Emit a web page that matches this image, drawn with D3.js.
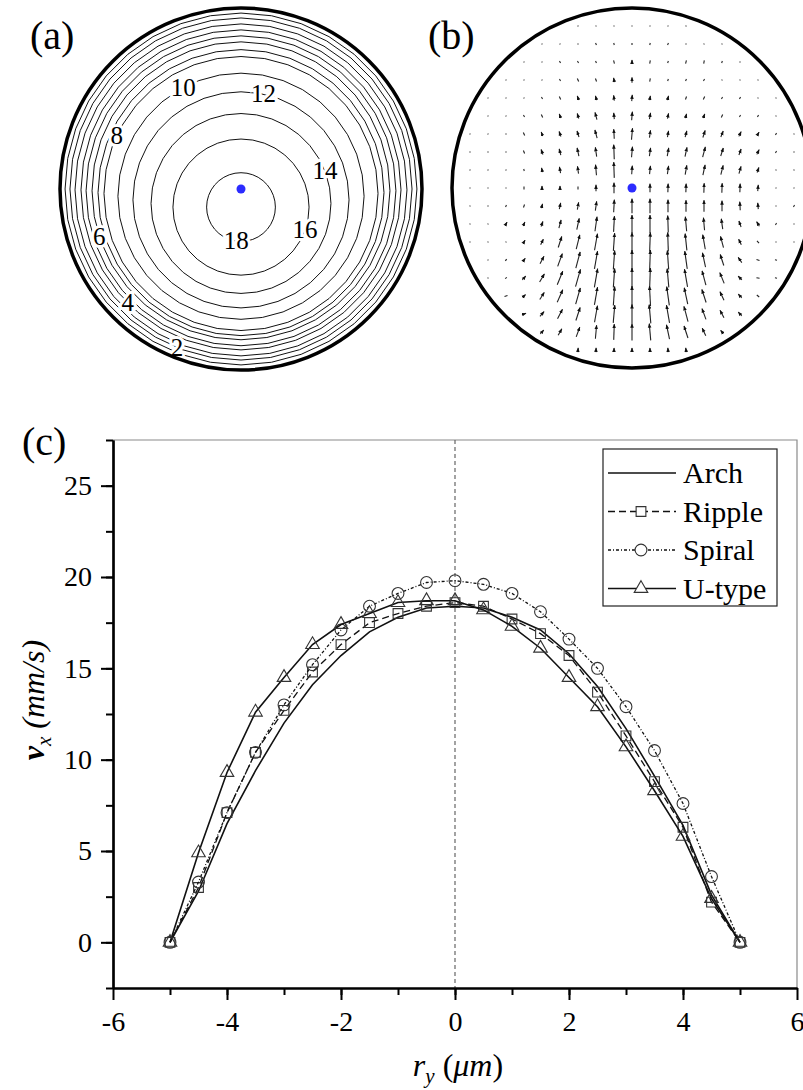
<!DOCTYPE html>
<html>
<head>
<meta charset="utf-8">
<script src="https://cdn.jsdelivr.net/npm/d3@7"></script>
<style>
  body { margin: 0; background: #fff; }
  text, tspan { font-family: "Liberation Serif", monospace !important; }
</style>
</head>
<body>
<svg width="803" height="1090"></svg>
<script>
// velocity profiles across the channel, panel (c)
const rPos = [-5, -4.5, -4, -3.5, -3, -2.5, -2, -1.5, -1, -0.5, 0, 0.5, 1, 1.5, 2, 2.5, 3, 3.5, 4, 4.5, 5];
const archVx = [0, 2.8, 6.5, 9.4, 12.0, 14.1, 15.7, 17.0, 17.8, 18.3, 18.4, 18.3, 17.8, 17.1, 15.8, 14.0, 11.7, 9.1, 6.4, 2.6, 0];
const rippleVx = [0, 3.0, 7.1, 10.4, 12.7, 14.8, 16.3, 17.5, 18.0, 18.4, 18.6, 18.4, 17.7, 16.9, 15.7, 13.7, 11.3, 8.8, 6.3, 2.2, 0];
const spiralVx = [0, 3.3, 7.1, 10.4, 13.0, 15.2, 17.1, 18.4, 19.1, 19.7, 19.8, 19.6, 19.1, 18.1, 16.6, 15.0, 12.9, 10.5, 7.6, 3.6, 0];
const utypeVx = [0, 4.9, 9.3, 12.6, 14.5, 16.3, 17.4, 18.0, 18.6, 18.7, 18.7, 18.2, 17.3, 16.1, 14.5, 12.9, 10.7, 8.3, 5.8, 2.4, 0];
const seriesNames = ['Arch', 'Ripple', 'Spiral', 'U-type'];
const xTicks = [-6, -4, -2, 0, 2, 4, 6];
const yTicks = [0, 5, 10, 15, 20, 25];

// contour map, panel (a): level, radius / R, downward shift of contour centre / R
const contourLevels = [1, 2, 3, 4, 5, 6, 7, 8, 10, 12, 14, 16, 18];
const contourRadius = [0.972, 0.945, 0.917, 0.884, 0.856, 0.823, 0.79, 0.757, 0.68, 0.597, 0.497, 0.376, 0.19];
const contourShift = [0, 0, 0.005, 0.005, 0.01, 0.01, 0.02, 0.025, 0.04, 0.06, 0.08, 0.1, 0.1];
const labelLevels = [2, 4, 6, 8, 10, 12, 14, 16, 18];
const labelAngle = [112, 135, 162, 205, 242, 282, 339, 20, 98];

// secondary flow, panel (b): magnitude and tilt (deg) on a 19 x 19 grid, rows top to bottom
const vecMag = [
  [0,0,0,0,0,0,1,1,1,1,1,1,1,0,0,0,0,0,0],
  [0,0,0,0,1,1,1,2,2,2,2,2,1,1,1,0,0,0,0],
  [0,0,0,1,1,2,2,2,3,4,3,2,3,3,2,1,0,0,0],
  [0,0,1,1,1,2,3,3,4,5,3,2,2,2,1,1,1,0,0],
  [0,1,1,1,2,3,4,4,5,6,4,4,3,3,2,2,1,1,0],
  [0,1,1,2,3,4,5,7,6,8,6,5,4,4,3,2,2,1,0],
  [1,1,1,3,4,5,6,8,9,11,7,6,6,7,6,5,4,2,1],
  [1,1,1,3,5,6,8,9,14,10,8,8,9,10,8,6,5,2,1],
  [1,1,1,2,4,6,7,10,15,8,8,8,9,10,9,7,5,1,1],
  [1,1,1,3,4,4,3,6,10,0,8,8,8,9,9,8,6,1,1],
  [1,1,2,3,4,6,7,9,12,14,14,12,11,11,10,8,6,1,2],
  [1,1,4,4,5,8,11,14,15,17,17,16,14,12,10,6,5,2,1],
  [0,1,1,4,6,11,14,16,17,18,18,18,16,14,11,6,3,1,0],
  [0,1,2,4,8,13,16,17,18,19,19,18,17,14,11,6,3,2,0],
  [0,1,2,5,9,14,17,18,18,19,19,18,17,14,11,5,3,2,0],
  [0,0,3,4,8,13,16,17,18,19,19,18,16,13,9,5,3,0,0],
  [0,0,0,4,6,10,13,16,17,18,18,17,15,11,8,5,0,0,0],
  [0,0,0,0,5,7,10,13,15,16,16,14,12,8,4,0,0,0,0],
  [0,0,0,0,0,0,4,4,4,4,4,4,4,0,0,0,0,0,0]
];
const vecTilt = [
  [0,0,0,0,0,0,-20,-10,-5,0,5,10,20,0,0,0,0,0,0],
  [0,0,0,0,-40,-35,-30,-25,-15,0,15,25,30,35,40,0,0,0,0],
  [0,0,0,-40,-40,-35,-30,-25,-15,0,10,20,15,10,20,30,0,0,0],
  [0,0,-40,-40,-35,-30,-25,-20,-10,0,10,20,25,30,35,40,40,0,0],
  [0,-40,-40,-35,-30,-25,-20,-15,-8,5,10,15,20,25,30,35,40,40,0],
  [0,-40,-35,-30,-25,-20,-18,-15,-5,5,10,12,15,20,25,30,35,40,0],
  [-40,-35,-30,-25,-22,-20,-18,-15,-3,5,8,10,15,18,22,25,30,35,40],
  [-30,-30,-25,-22,-20,-15,-12,-8,-2,5,8,10,12,15,18,20,25,30,30],
  [-20,-20,-15,-15,-12,-10,-8,-5,-2,4,6,8,10,12,14,16,20,20,20],
  [0,0,0,0,0,0,0,0,0,0,0,2,2,2,2,2,5,10,10],
  [40,30,25,20,15,12,10,8,3,0,0,0,0,0,0,-3,-5,0,30],
  [40,35,30,25,20,15,12,8,3,0,0,-2,-5,-5,-8,-20,-30,30,0],
  [0,40,35,30,25,18,14,10,4,0,2,-2,-6,-10,-15,-25,-40,0,0],
  [0,50,45,35,28,20,15,10,4,0,2,-4,-8,-12,-18,-35,-70,-80,0],
  [0,60,50,40,30,22,16,10,4,0,2,-5,-10,-15,-22,-45,-80,-80,0],
  [0,0,70,45,32,24,16,10,4,0,-3,-8,-12,-18,-25,-40,-50,0,0],
  [0,0,0,70,40,28,18,10,5,0,-5,-10,-15,-20,-28,-40,0,0,0],
  [0,0,0,0,40,30,20,5,2,0,-5,-12,-18,-25,-40,0,0,0,0],
  [0,0,0,0,0,0,5,3,2,0,-2,-5,-8,0,0,0,0,0,0]
];

const svg = d3.select('svg');
const FONT = '"Liberation Serif", monospace';

// ---------- panel (a) ----------
const pa = { cx: 241, cy: 189, r: 181 };
const ax = d3.scaleLinear().domain([-1, 1]).range([pa.cx - pa.r, pa.cx + pa.r]);
const ay = d3.scaleLinear().domain([-1, 1]).range([pa.cy - pa.r, pa.cy + pa.r]);
const aLayer = svg.append('g');
const ring = d3.lineRadial().curve(d3.curveLinearClosed);
const nVert = 36;

contourLevels.forEach(function(level, k) {
    const rr = ax(contourRadius[k]) - ax(0);
    const pts = d3.range(nVert).map(i => [i / nVert * 2 * Math.PI, rr]);
    aLayer.append('path')
        .attr('transform', 'translate(' + ax(0) + ',' + ay(contourShift[k]) + ')')
        .attr('d', ring(pts))
        .attr('fill', 'none')
        .attr('stroke', '#111')
        .attr('stroke-width', 1);
});

labelLevels.forEach(function(level, i) {
    const k = contourLevels.indexOf(level);
    const rr = ax(contourRadius[k]) - ax(0);
    const a = labelAngle[i] * Math.PI / 180;
    aLayer.append('text')
        .attr('x', ax(0) + rr * Math.cos(a))
        .attr('y', ay(contourShift[k]) + rr * Math.sin(a) + 8)
        .attr('text-anchor', 'middle')
        .attr('font-size', 25)
        .attr('stroke', '#fff')
        .attr('stroke-width', 6)
        .attr('paint-order', 'stroke')
        .text(level);
});

aLayer.append('circle')
    .attr('cx', ax(0)).attr('cy', ay(0)).attr('r', ax(1) - ax(0))
    .attr('fill', 'none').attr('stroke', '#000').attr('stroke-width', 3.5);
aLayer.append('circle')
    .attr('cx', ax(0)).attr('cy', ay(0)).attr('r', 4.5)
    .attr('fill', '#2b2bff');
svg.append('text').attr('x', 30).attr('y', 49).attr('font-size', 40).text('(a)');

// ---------- panel (b) ----------
const pb = { cx: 632, cy: 188, r: 180, step: 18 };
const bx = d3.scaleLinear().domain([-9, 9]).range([pb.cx - 9 * pb.step, pb.cx + 9 * pb.step]);
const by = d3.scaleLinear().domain([-9, 9]).range([pb.cy - 9 * pb.step, pb.cy + 9 * pb.step]);
const bLen = d3.scaleLinear().domain([0, 20]).range([0, 21]);

svg.append('defs').append('marker')
    .attr('id', 'head')
    .attr('viewBox', '0 0 10 10')
    .attr('refX', 9).attr('refY', 5)
    .attr('markerWidth', 4.5).attr('markerHeight', 4.5)
    .attr('markerUnits', 'userSpaceOnUse')
    .attr('orient', 'auto')
    .append('path').attr('d', 'M0,1 L10,5 L0,9 Z').attr('fill', '#111');

const bLayer = svg.append('g');
const vecs = [];
vecMag.forEach(function(row, r) {
    row.forEach(function(m, c) {
        const i = c - 9, j = r - 9;
        if (i * i + j * j > 90) return;
        if (i === 0 && j === 0) return;
        vecs.push({ i: i, j: j, m: Math.max(m, 0.8), t: vecTilt[r][c] * Math.PI / 180 });
    });
});
bLayer.selectAll('line')
    .data(vecs)
    .join('line')
    .attr('x1', d => bx(d.i) - bLen(d.m) * Math.sin(d.t) / 2)
    .attr('y1', d => by(d.j) + bLen(d.m) * Math.cos(d.t) / 2)
    .attr('x2', d => bx(d.i) + bLen(d.m) * Math.sin(d.t) / 2)
    .attr('y2', d => by(d.j) - bLen(d.m) * Math.cos(d.t) / 2)
    .attr('stroke', '#222')
    .attr('stroke-width', 1.1)
    .attr('marker-end', d => d.m >= 4 ? 'url(#head)' : null);

bLayer.append('circle')
    .attr('cx', pb.cx).attr('cy', pb.cy).attr('r', pb.r)
    .attr('fill', 'none').attr('stroke', '#000').attr('stroke-width', 3.5);
bLayer.append('circle')
    .attr('cx', pb.cx).attr('cy', pb.cy).attr('r', 4.5)
    .attr('fill', '#2b2bff');
svg.append('text').attr('x', 428).attr('y', 49).attr('font-size', 40).text('(b)');

// ---------- panel (c) ----------
const pc = { left: 113, right: 797, top: 440, bottom: 988 };
const x = d3.scaleLinear().domain([-6, 6]).range([pc.left, pc.right]);
const y = d3.scaleLinear().domain([-2.5, 27.5]).range([pc.bottom, pc.top]);
const cLayer = svg.append('g');

// thin frame on top and right
cLayer.append('path')
    .attr('d', 'M' + pc.left + ',' + pc.top + 'H' + pc.right + 'V' + pc.bottom)
    .attr('fill', 'none').attr('stroke', '#8a8a8a').attr('stroke-width', 1.2);

// centre line
cLayer.append('line')
    .attr('x1', x(0)).attr('x2', x(0)).attr('y1', pc.top).attr('y2', pc.bottom)
    .attr('stroke', '#666').attr('stroke-width', 1.2).attr('stroke-dasharray', '4,3');

function styleAxis(g) {
    g.attr('font-family', FONT);
    g.select('.domain').attr('stroke', '#000').attr('stroke-width', 2.2);
    g.selectAll('.tick line').attr('stroke', '#000').attr('stroke-width', 2);
    g.selectAll('.tick text').attr('font-size', 28).attr('fill', '#000');
}
const plain = d => String(d);

const yMinor = cLayer.append('g').attr('transform', 'translate(' + pc.left + ',0)')
    .call(d3.axisLeft(y).tickValues(d3.range(-2.5, 28, 2.5)).tickSize(7).tickFormat('').tickSizeOuter(0));
styleAxis(yMinor);
const yMajor = cLayer.append('g').attr('transform', 'translate(' + pc.left + ',0)')
    .call(d3.axisLeft(y).tickValues(yTicks).tickSize(12).tickPadding(9).tickFormat(plain).tickSizeOuter(0));
styleAxis(yMajor);

const xMinor = cLayer.append('g').attr('transform', 'translate(0,' + pc.bottom + ')')
    .call(d3.axisBottom(x).tickValues(d3.range(-5, 6, 1)).tickSize(7).tickFormat('').tickSizeOuter(0));
styleAxis(xMinor);
const xMajor = cLayer.append('g').attr('transform', 'translate(0,' + pc.bottom + ')')
    .call(d3.axisBottom(x).tickValues(xTicks).tickSize(12).tickPadding(11).tickFormat(plain).tickSizeOuter(0));
styleAxis(xMajor);

const seriesVals = [archVx, rippleVx, spiralVx, utypeVx];
const dashes = [null, '7,4', '3,2,1,2', null];
const symbols = [null, d3.symbolSquare, d3.symbolCircle, d3.symbolTriangle];
const symSizes = [0, 95, 110, 80];
const widths = [1.6, 1.3, 1.3, 1.6];

const line = d3.line().x(d => x(d[0])).y(d => y(d[1]));
seriesVals.forEach(function(vals, s) {
    const pts = rPos.map((r, i) => [r, vals[i]]);
    cLayer.append('path')
        .datum(pts)
        .attr('d', line)
        .attr('fill', 'none')
        .attr('stroke', '#111')
        .attr('stroke-width', widths[s])
        .attr('stroke-dasharray', dashes[s]);
    if (symbols[s]) {
        cLayer.append('g').selectAll('path')
            .data(pts)
            .join('path')
            .attr('transform', d => 'translate(' + x(d[0]) + ',' + y(d[1]) + ')')
            .attr('d', d3.symbol(symbols[s], symSizes[s]))
            .attr('fill', 'none')
            .attr('stroke', '#333')
            .attr('stroke-width', 1.1);
    }
});

// legend
const lg = cLayer.append('g').attr('transform', 'translate(603,449)');
lg.append('rect').attr('width', 174).attr('height', 157)
    .attr('fill', '#fff').attr('stroke', '#222').attr('stroke-width', 1.2);
seriesNames.forEach(function(name, s) {
    const ry = 24 + s * 38.5;
    lg.append('line').attr('x1', 5).attr('x2', 73).attr('y1', ry).attr('y2', ry)
        .attr('stroke', '#111').attr('stroke-width', widths[s]).attr('stroke-dasharray', dashes[s]);
    if (symbols[s]) {
        lg.append('path').attr('transform', 'translate(38,' + ry + ')')
            .attr('d', d3.symbol(symbols[s], symSizes[s]))
            .attr('fill', '#fff').attr('stroke', '#333').attr('stroke-width', 1.1);
    }
    lg.append('text').attr('x', 80).attr('y', ry + 10).attr('font-size', 30).text(name);
});

// axis titles
const yt = svg.append('text')
    .attr('transform', 'translate(44,700) rotate(-90)')
    .attr('text-anchor', 'middle')
    .attr('font-size', 32);
yt.append('tspan').style('font-weight', 'bold').style('font-style', 'italic').text('v');
yt.append('tspan').style('font-style', 'italic').attr('font-size', 21).attr('dy', 7).text('x');
yt.append('tspan').style('font-style', 'italic').attr('dy', -7).text(' (mm/s)');

const xt = svg.append('text')
    .attr('x', 458).attr('y', 1076)
    .attr('text-anchor', 'middle')
    .attr('font-size', 32);
xt.append('tspan').style('font-style', 'italic').text('r');
xt.append('tspan').style('font-style', 'italic').attr('font-size', 21).attr('dy', 7).text('y');
xt.append('tspan').attr('dy', -7).text(' (');
xt.append('tspan').style('font-style', 'italic').text('\u03bcm');
xt.append('tspan').text(')');

svg.append('text').attr('x', 22).attr('y', 455).attr('font-size', 40).text('(c)');

svg.selectAll('text').style('font-family', FONT).style('fill', '#000');
</script>
</body>
</html>
